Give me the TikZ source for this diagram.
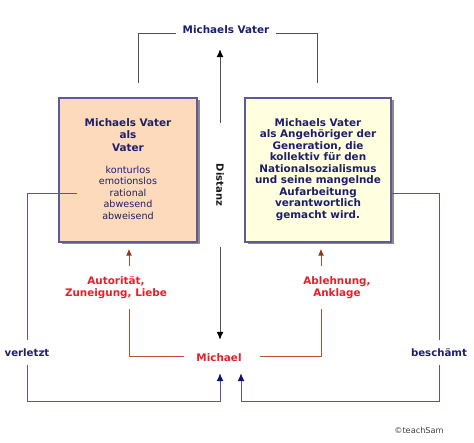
\documentclass[tikz,border=0pt]{standalone}
\usepackage{fontspec}
\setmainfont{DejaVu Sans}
\usepackage{graphicx}
\usetikzlibrary{arrows.meta,shadows,calc}
\definecolor{navytxt}{HTML}{1E1E6E}
\definecolor{redtxt}{HTML}{E4202A}
\definecolor{brownln}{HTML}{B0503C}
\definecolor{browntip}{HTML}{8B3A20}
\definecolor{slateln}{HTML}{5656A0}
\definecolor{navytip}{HTML}{10106E}
\definecolor{grayln}{HTML}{505050}
\definecolor{boxborder}{HTML}{5E5A98}
\definecolor{peach}{HTML}{FCDABB}
\definecolor{cream}{HTML}{FFFFE0}
\begin{document}
\begin{tikzpicture}[x=1pt,y=-1pt,
  every node/.style={font=\bfseries\fontsize{10.4}{12.5}\selectfont},
  box/.style={draw=boxborder, line width=1.5pt, inner sep=0pt, minimum height=144pt,
    drop shadow={shadow xshift=2.5pt, shadow yshift=-2.5pt, fill=black!45, opacity=1}},
  boxhead/.style={align=center, text=navytxt, inner sep=0pt, anchor=north},
  boxitems/.style={align=center, text=navytxt, inner sep=0pt, anchor=north,
    font=\fontsize{9.6}{11.5}\selectfont},
  redlabel/.style={align=center, text=redtxt, inner xsep=2pt, inner ysep=10pt,
    font=\bfseries\fontsize{10.4}{12}\selectfont},
  bluelabel/.style={text=navytxt, inner sep=0pt, minimum height=25pt,
    font=\bfseries\fontsize{10.2}{12}\selectfont},
  grayline/.style={draw=grayln, line width=1pt},
  brownline/.style={draw=brownln, line width=1pt},
  blueline/.style={draw=slateln, line width=1pt},
  darrow/.style={-{Latex[length=8pt,width=7pt,color=black]}},
  barrow/.style={-{Latex[length=7pt,width=6pt,color=browntip]}},
  narrow/.style={-{Latex[length=8pt,width=7pt,color=navytip]}}
]
\fill[white] (0,0) rectangle (474,443);
\useasboundingbox (0,0) rectangle (474,443);

% boxes
\node[box, fill=peach, minimum width=138pt] (lbox) at (128,170) {};
\node[box, fill=cream, minimum width=146pt] (rbox) at (318,170) {};
\node[boxhead] (lhead) at (128,118) {Michaels Vater\\als\\Vater};
\node[boxitems] (litems) at (128,166) {konturlos\\emotionslos\\rational\\abwesend\\abweisend};
\node[boxhead, font=\bfseries\fontsize{10.4}{11.5}\selectfont] (rtext) at (318,118)
  {Michaels Vater\\als Angehöriger der\\Generation, die\\kollektiv für den\\Nationalsozialismus\\und seine mangelnde\\Aufarbeitung\\verantwortlich\\gemacht wird.};

% top label and distance
\node[text=navytxt, inner xsep=7pt, inner ysep=3pt] (mv) at (226,30) {Michaels Vater};
\node[text=black!90, inner sep=0pt, minimum height=124pt,
  font=\bfseries\fontsize{10}{12}\selectfont] (dist) at (220,185) {\rotatebox{-90}{Distanz}};
\node[text=redtxt, inner xsep=12pt, inner ysep=3pt] (mich) at (219,358) {Michael};

\coordinate (tl) at (138,83);
\coordinate (tr) at (317,83);
\draw[grayline] (tl) |- (mv.base west);
\draw[grayline] (tr) |- (mv.base east);
\draw[grayline, darrow, shorten >=12pt] (dist.north) -- (dist.north |- mv.south);
\draw[grayline, darrow, shorten >=11pt] (dist.south) -- (dist.south |- mich.north);

% red labels
\node[redlabel] (aut) at (116,287.5) {Autorität,\\Zuneigung, Liebe};
\node[redlabel] (abl) at (337,287.5) {Ablehnung,\\Anklage};
\coordinate (la) at (129,357);
\coordinate (ra) at (321,357);
\draw[brownline] (mich.west |- la) -- (la) -- (la |- aut.south);
\draw[brownline] ([xshift=6pt]mich.east |- ra) -- (ra) -- (ra |- abl.south);
\draw[brownline, barrow, shorten >=6pt] (la |- aut.north) -- (la |- lbox.south);
\draw[brownline, barrow, shorten >=6pt] (ra |- abl.north) -- (ra |- rbox.south);

% blue side paths
\node[bluelabel] (verl) at (27,352.5) {verletzt};
\node[bluelabel] (besch) at (439,352.5) {beschämt};
\coordinate (bl) at (27,402);
\coordinate (br) at (439,402);
\draw[blueline] ($(lbox.west)+(19,24)$) -| (verl.north);
\draw[blueline] ($(rbox.east)+(0,24)$) -| (besch.north);
\draw[blueline, narrow, shorten >=8pt] (verl.south) -- (bl) -| ([xshift=1pt]mich.south);
\draw[blueline, narrow, shorten >=8pt] (besch.south) -- (br) -| ([xshift=22pt]mich.south);

% copyright
\node[text=black!75, inner sep=0pt, font=\fontsize{8.2}{10}\selectfont] (copy) at (419,430) {©teachSam};
\end{tikzpicture}
\end{document}
